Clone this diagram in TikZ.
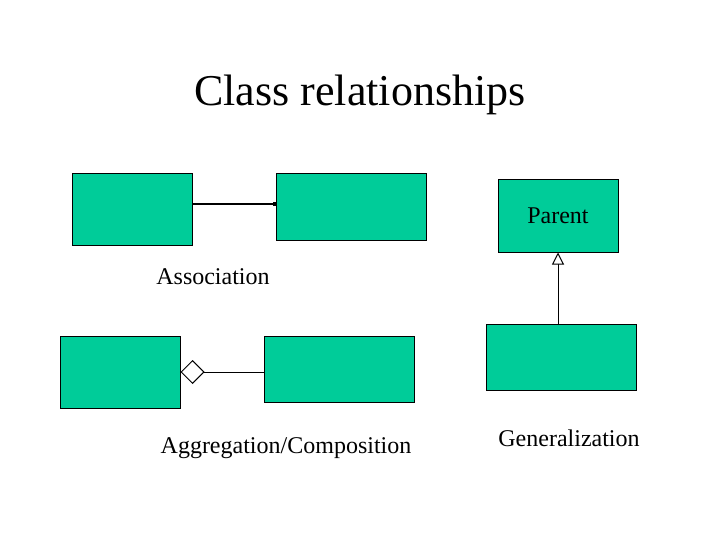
\documentclass[tikz,border=0pt]{standalone}
\usepackage{fontspec}
\setmainfont{Liberation Serif}
\usetikzlibrary{arrows.meta}
\definecolor{boxgreen}{RGB}{0,204,153}
\tikzset{
  cls/.style={draw=black, line width=1pt, fill=boxgreen, inner sep=0pt},
  lbl/.style={font=\fontsize{24}{28}\selectfont, inner sep=0pt},
  conn/.style={line width=1pt, draw=black}
}
\begin{document}
\begin{tikzpicture}[x=1pt,y=-1pt]
\useasboundingbox (0,0) rectangle (720,540);
\node[font=\fontsize{44}{50}\selectfont, inner sep=0pt] (title) at (360,95) {Class relationships};
% association
\node[cls, minimum width=120pt, minimum height=71pt] (a1) at (132,209.5) {};
\node[cls, minimum width=150pt, minimum height=66pt] (a2) at (351,207) {};
\draw[line width=2pt, -{Square[length=3pt,width=4pt]}] (a1.east |- 0,204) -- (a2.west |- 0,204);
\node[lbl] (assoc) at (213,277) {Association};
% aggregation
\node[cls, minimum width=120pt, minimum height=72pt] (b1) at (120,372) {};
\node[cls, minimum width=150pt, minimum height=66pt] (b2) at (339,369) {};
\draw[conn, {Diamond[open, fill=white, length=24pt, width=24pt, line width=1pt]}-] (b1.east |- 0,372) -- (b2.west |- 0,372);
\node[lbl] (aggr) at (286,448) {Aggregation/Composition};
% generalization
\node[cls, minimum width=120pt, minimum height=72pt, font=\fontsize{24}{28}\selectfont] (parent) at (558,216) {Parent};
\node[cls, minimum width=150pt, minimum height=66pt] (child) at (561,357) {};
\draw[conn, -{Triangle[open, fill=white, length=12pt, width=12pt, line width=1pt]}] (child.north -| 558,0) -- (parent.south -| 558,0);
\node[lbl] (gen) at (569,438) {Generalization};
\end{tikzpicture}
\end{document}
